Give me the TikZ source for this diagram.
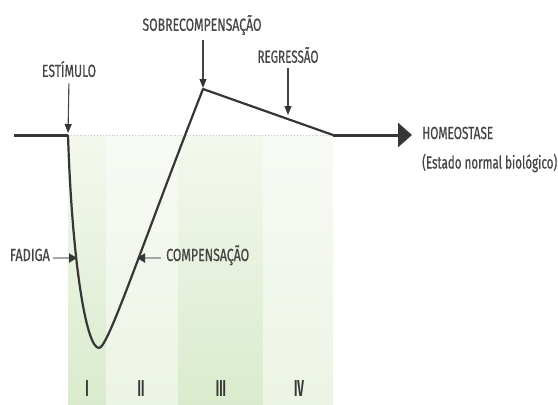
\documentclass[tikz,border=0pt]{standalone}
\usepackage{fontspec}
\setmainfont[FakeStretch=0.7,FakeBold=0.6]{Fira Sans}
\newfontfamily\numfont[FakeStretch=0.5]{Fira Sans}
\usetikzlibrary{arrows.meta}
\definecolor{txt}{HTML}{454545}
\definecolor{ln}{HTML}{363636}
\definecolor{gdarkT}{RGB}{244,248,238}
\definecolor{gdarkB}{RGB}{218,235,205}
\definecolor{glightT}{RGB}{248,250,245}
\definecolor{glightB}{RGB}{236,244,229}
\newcommand{\fitw}[2]{\resizebox{#1pt}{\height}{#2}}
\begin{document}
\begin{tikzpicture}[x=1pt,y=-1pt,
  lbl/.style={text=txt,font=\fontsize{17.5}{19}\selectfont,inner sep=0pt},
  num/.style={text=ln,font=\numfont\bfseries\fontsize{23}{24}\selectfont,inner sep=0pt},
  ptr/.style={draw=txt,line width=1.1pt,-{Triangle[length=9pt,width=7pt,color=ln]}},
  gptr/.style={draw=gray!70,line width=2.6pt,-{Triangle[length=8pt,width=9pt,color=ln]}},
  curve/.style={draw=ln,line width=2.2pt,line join=round},
  darkband/.style={top color=gdarkT,bottom color=gdarkB},
  lightband/.style={top color=glightT,bottom color=glightB}]
\useasboundingbox (0,0) rectangle (558,405);
% bands
\fill[darkband] (68,135) rectangle (106,405);
\fill[lightband] (106,135) rectangle (178,405);
\fill[darkband] (178,135) rectangle (263,405);
\fill[lightband] (263,135) rectangle (333,405);
% key points
\coordinate (start) at (14,135);
\coordinate (stim) at (68,135);
\coordinate (min) at (99,348);
\coordinate (peak) at (203,89);
\coordinate (reg) at (333,135);
\coordinate (regpt) at (288,117);
\coordinate (fadpt) at (77,258);
\coordinate (compt) at (137,258);
\coordinate (end) at (412,135);
% dotted baseline
\draw[gray!45,dotted,line width=0.9pt] (stim) -- (reg);
% main line
\draw[draw=ln,line width=3pt] (start) -- (stim);
\draw[curve] (stim) .. controls (72,260) and (86,348) .. (min)
  .. controls (108,348) and (140,250) .. (peak) -- (reg);
\draw[draw=ln,line width=3pt,-{Triangle[length=14pt,width=24pt]}] (reg) -- (end);
% labels
\node[lbl] (estim) at (69,69) {\fitw{54}{ESTÍMULO}};
\node[lbl] (sobre) at (202,25) {\fitw{119}{SOBRECOMPENSAÇÃO}};
\node[lbl] (regr) at (288,55) {\fitw{61}{REGRESSÃO}};
\node[lbl,anchor=west] (homeo) at (422,133) {\fitw{71}{HOMEOSTASE}};
\node[lbl,anchor=west] (estado) at (422,163) {\fitw{135}{(Estado normal biológico)}};
\node[lbl,anchor=base east] (fadiga) at (50,261) {\fitw{40}{FADIGA}};
\node[lbl,anchor=base west] (comp) at (166,261) {\fitw{83}{COMPENSAÇÃO}};
% pointers
\draw[ptr,shorten <=6pt,shorten >=2pt] (estim.south) -- (stim);
\draw[ptr,shorten <=5pt,shorten >=1pt] (sobre.south -| peak) -- (peak);
\draw[ptr,shorten <=5pt,shorten >=2pt] (regr.south) -- (regpt);
\draw[gptr] (fadiga.east |- fadpt) ++(3,0) -- (fadpt);
\draw[gptr] (comp.west |- compt) ++(-5,0) -- (compt);
% roman numerals
\node[num] (n1) at (87,389) {I};
\node[num] (n2) at (141,389) {II};
\node[num] (n3) at (221,389) {III};
\node[num] (n4) at (299,389) {IV};
\end{tikzpicture}
\end{document}
